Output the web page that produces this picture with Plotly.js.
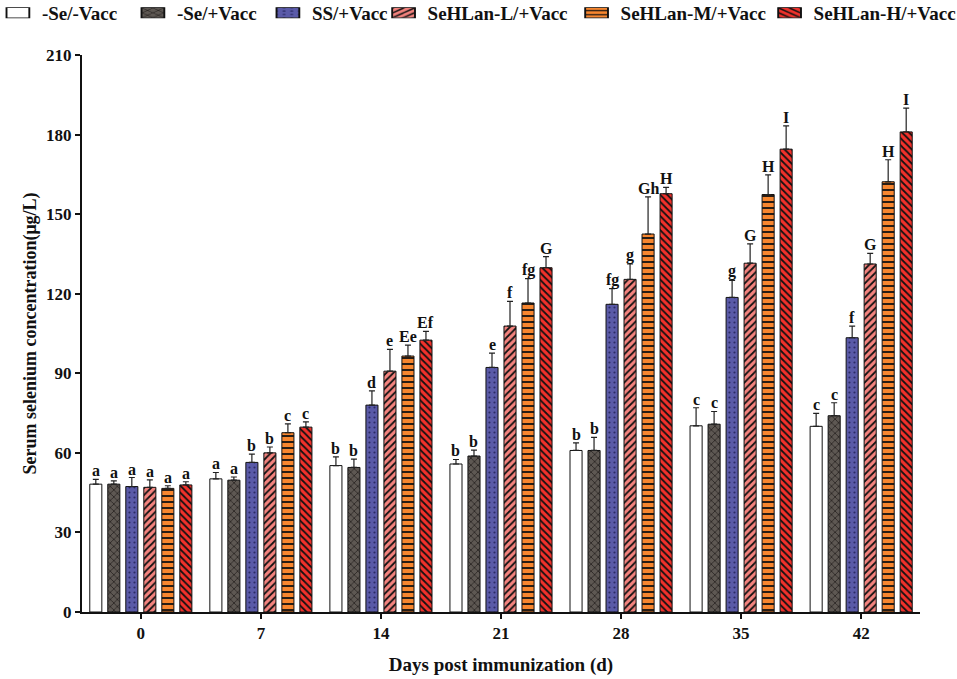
<!DOCTYPE html>
<html>
<head>
<meta charset="utf-8">
<script src="https://cdn.plot.ly/plotly-3.0.1.min.js"></script>
<style>
  body { margin: 0; background: #fff; }
  #chart { width: 957px; height: 679px; }
</style>
</head>
<body>
<div id="chart"></div>
<script>
var days = ['0', '7', '14', '21', '28', '35', '42'];
var idx = [0, 1, 2, 3, 4, 5, 6];

var groups = ['-Se/-Vacc', '-Se/+Vacc', 'SS/+Vacc', 'SeHLan-L/+Vacc', 'SeHLan-M/+Vacc', 'SeHLan-H/+Vacc'];

var negNeg = [48.2, 50.2, 55.2, 55.8, 60.9, 70.2, 70.0];
var negNegSd = [1.8, 2.4, 3.3, 1.7, 2.9, 6.8, 4.9];
var negPos = [48.2, 49.7, 54.5, 58.8, 60.9, 70.8, 74.0];
var negPosSd = [1.2, 1.2, 3.1, 2.2, 4.9, 4.8, 4.9];
var ss = [47.3, 56.4, 78.0, 92.2, 116.0, 118.6, 103.4];
var ssSd = [3.4, 3.1, 5.4, 5.4, 5.9, 6.4, 4.4];
var low = [47.0, 60.0, 90.8, 107.8, 125.4, 131.5, 131.2];
var lowSd = [2.8, 2.2, 8.2, 9.3, 5.8, 7.3, 4.0];
var mid = [46.6, 67.6, 96.5, 116.5, 142.5, 157.4, 162.2];
var midSd = [1.0, 3.3, 4.1, 9.2, 14.0, 7.4, 8.3];
var high = [47.9, 69.7, 102.5, 129.8, 157.7, 174.5, 181.0];
var highSd = [1.2, 2.0, 3.3, 4.2, 2.4, 8.8, 9.0];

// significance letters, one row per series
var letters = [
    ['a', 'a', 'b', 'b', 'b', 'c', 'c'],
    ['a', 'a', 'b', 'b', 'b', 'c', 'c'],
    ['a', 'b', 'd', 'e', 'fg', 'g', 'f'],
    ['a', 'b', 'e', 'f', 'g', 'G', 'G'],
    ['a', 'c', 'Ee', 'fg', 'Gh', 'H', 'H'],
    ['a', 'c', 'Ef', 'G', 'H', 'I', 'I']
];

var values = [negNeg, negPos, ss, low, mid, high];
var sds = [negNegSd, negPosSd, ssSd, lowSd, midSd, highSd];

var fills = ['#ffffff', '#5e5853', '#5a5aa8', '#f4837e', '#f7862f', '#f2312b'];
var patterns = [
    {shape: ''},
    {shape: 'x', fgcolor: '#1e1b19', bgcolor: '#5e5853', size: 5, solidity: 0.25},
    {shape: '.', fgcolor: '#2b2b66', bgcolor: '#5a5aa8', size: 5, solidity: 0.15},
    {shape: '/', fgcolor: '#111111', bgcolor: '#f4837e', size: 5, solidity: 0.35},
    {shape: '-', fgcolor: '#111111', bgcolor: '#f7862f', size: 6, solidity: 0.3},
    {shape: '\\', fgcolor: '#111111', bgcolor: '#f2312b', size: 5, solidity: 0.35}
];
// first three series go in the left legend, the rest in a second one
var legendOf = ['legend', 'legend', 'legend', 'legend2', 'legend2', 'legend2'];

var font = 'Liberation Serif, Times New Roman, serif';

var data = [];
for (var s = 0; s < groups.length; s++) {
    data.push({
        x: idx,
        y: values[s],
        name: groups[s],
        type: 'bar',
        legend: legendOf[s],
        marker: {
            color: fills[s],
            line: {color: '#111111', width: 1},
            pattern: patterns[s]
        },
        error_y: {
            type: 'data',
            symmetric: false,
            array: sds[s],
            arrayminus: sds[s].map(function () { return 0; }),
            color: '#222222',
            thickness: 1.2,
            width: 3
        }
    });
}

// letters above each error bar
var bargap = 0.1;
var slot = (1 - bargap) / groups.length;
var annotations = [];
for (var s = 0; s < groups.length; s++) {
    for (var i = 0; i < idx.length; i++) {
        annotations.push({
            x: idx[i] + (s - (groups.length - 1) / 2) * slot,
            y: values[s][i] + sds[s][i],
            text: letters[s][i],
            showarrow: false,
            yanchor: 'bottom',
            yshift: -2,
            font: {family: font, size: 16, color: '#111111', weight: 'bold'}
        });
    }
}

var legendFont = {family: font, size: 19, color: '#111111', weight: 'bold'};

var layout = {
    width: 957,
    height: 679,
    margin: {l: 82, r: 37, t: 55, b: 67},
    paper_bgcolor: '#ffffff',
    plot_bgcolor: '#ffffff',
    barmode: 'group',
    bargap: bargap,
    bargroupgap: 0.33,
    font: {family: font, size: 17, color: '#111111', weight: 'bold'},
    showlegend: true,
    legend: {
        orientation: 'h',
        xref: 'container',
        yref: 'container',
        x: 0.002,
        xanchor: 'left',
        y: 0.981,
        yanchor: 'middle',
        font: legendFont,
        itemwidth: 30,
        entrywidth: 90
    },
    legend2: {
        orientation: 'h',
        xref: 'container',
        yref: 'container',
        x: 0.405,
        xanchor: 'left',
        y: 0.981,
        yanchor: 'middle',
        font: legendFont,
        itemwidth: 30,
        entrywidth: 148
    },
    xaxis: {
        automargin: false,
        range: [-0.49, 6.49],
        tickvals: idx,
        ticktext: days,
        ticks: 'outside',
        ticklen: 5,
        tickwidth: 2,
        tickcolor: '#111111',
        showline: true,
        linecolor: '#111111',
        linewidth: 2,
        showgrid: false,
        zeroline: false,
        tickfont: {family: font, size: 17, weight: 'bold'},
        title: {text: 'Days post immunization (d)', font: {family: font, size: 19, weight: 'bold'}, standoff: 15}
    },
    yaxis: {
        automargin: false,
        range: [0, 210],
        dtick: 30,
        ticks: 'outside',
        ticklen: 5,
        tickwidth: 2,
        tickcolor: '#111111',
        showline: true,
        linecolor: '#111111',
        linewidth: 2,
        showgrid: false,
        zeroline: false,
        tickfont: {family: font, size: 17, weight: 'bold'},
        title: {text: 'Serum selenium concentration(μg/L)', font: {family: font, size: 18, weight: 'bold'}, standoff: 5}
    },
    annotations: annotations
};

Plotly.newPlot('chart', data, layout, {displayModeBar: false}).then(function () {
    // wider, flatter legend swatches like the original figure
    document.querySelectorAll('.legendpoints path').forEach(function (p) {
        var t = p.getAttribute('transform') || '';
        p.setAttribute('transform', 'translate(-4,0) ' + t + ' scale(1.9,0.85)');
        p.style.strokeWidth = '1px';
    });
});
</script>
</body>
</html>
